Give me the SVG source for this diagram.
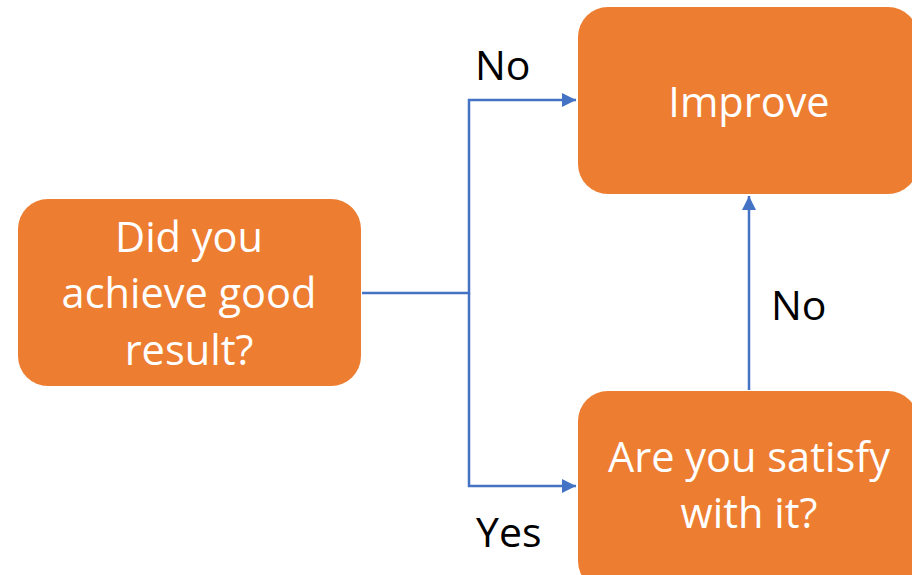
<svg xmlns="http://www.w3.org/2000/svg" width="912" height="575" viewBox="0 0 912 575">
<defs>
<style>
.box{fill:#ED7D31;}
.t{font-family:"Open Sans","Liberation Sans",sans-serif;font-size:41.5px;fill:#FFFFFF;text-anchor:middle;}
.lbl{font-family:"Open Sans","Liberation Sans",sans-serif;font-size:41px;fill:#000000;}
.c{fill:none;stroke:#4472C4;stroke-width:2.5;}
</style>
<marker id="ah" viewBox="0 0 10 10" refX="10" refY="5" markerWidth="5.6" markerHeight="5.6" markerUnits="strokeWidth" orient="auto">
<path d="M0,0 L10,5 L0,10 Z" fill="#4472C4"/>
</marker>
</defs>
<rect width="912" height="575" fill="#FFFFFF"/>
<g id="connectors">
<polyline class="c" points="362,293 469,293 469,100 576,100" marker-end="url(#ah)"/>
<polyline class="c" points="469,293 469,486 576,486" marker-end="url(#ah)"/>
<line class="c" x1="749" y1="390" x2="749" y2="196" marker-end="url(#ah)"/>
<text class="lbl" x="475" y="80">No</text>
<text class="lbl" x="771" y="320">No</text>
<text class="lbl" x="476" y="547">Yes</text>
</g>
<g id="node-result">
<rect class="box" x="18" y="199" width="343" height="187" rx="30"/>
<text class="t" x="189" y="252">Did you</text>
<text class="t" x="189" y="308">achieve good</text>
<text class="t" x="189" y="365">result?</text>
</g>
<g id="node-improve">
<rect class="box" x="578" y="7" width="340" height="187" rx="30"/>
<text class="t" x="749" y="117">Improve</text>
</g>
<g id="node-satisfy">
<rect class="box" x="578" y="391" width="340" height="200" rx="30"/>
<text class="t" x="749" y="472">Are you satisfy</text>
<text class="t" x="749" y="528">with it?</text>
</g>
</svg>
